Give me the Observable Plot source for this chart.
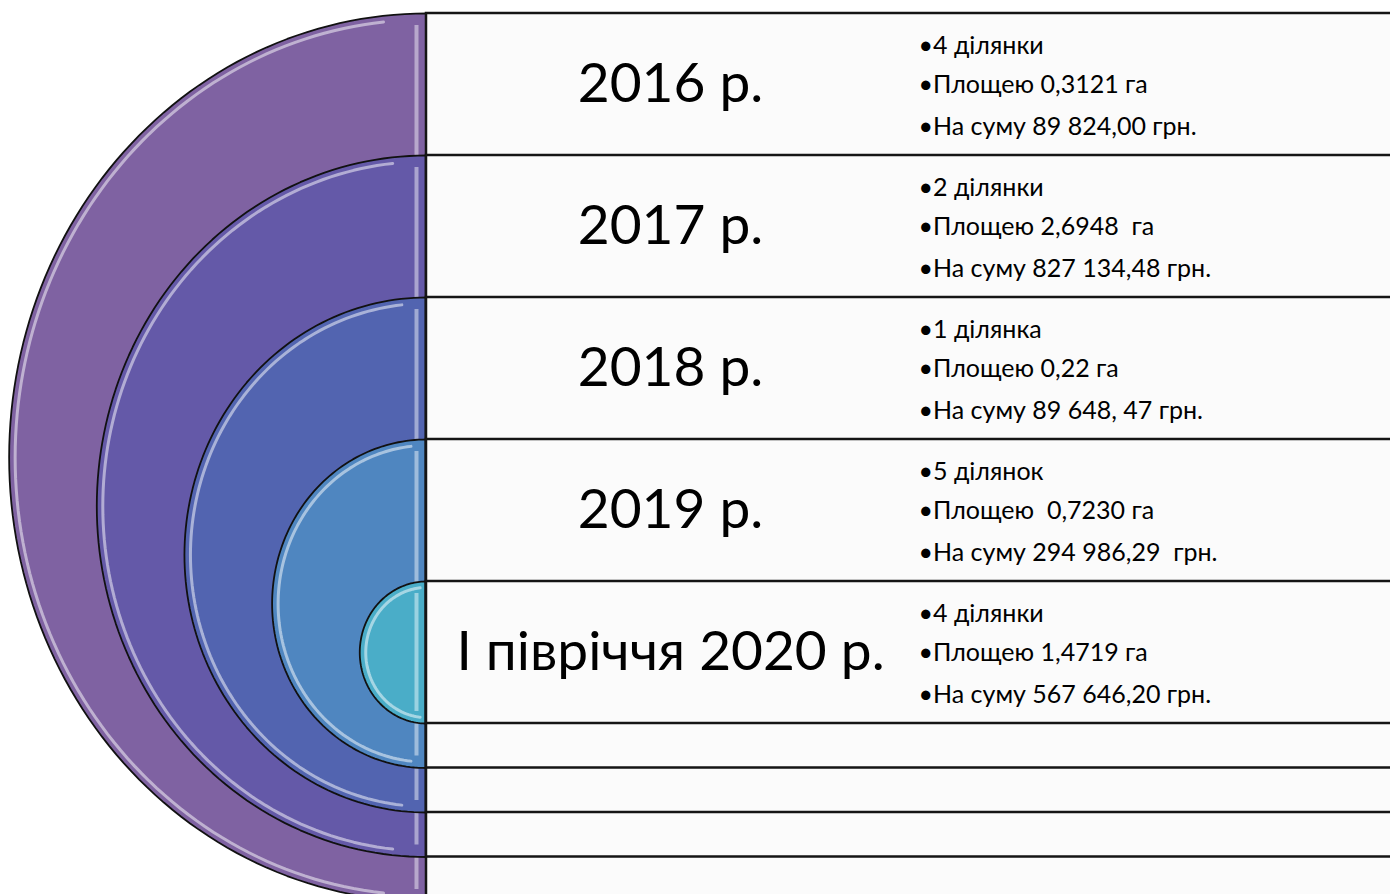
<!DOCTYPE html>
<html>
<head>
<meta charset="utf-8">
<script src="https://cdn.jsdelivr.net/npm/d3@7"></script>
<script src="https://cdn.jsdelivr.net/npm/@observablehq/plot@0.6"></script>
<style>
  html, body { margin: 0; padding: 0; background: #ffffff; }
  #chart svg text { white-space: pre; }
</style>
</head>
<body>
<div id="chart"></div>
<script>
// ---- data ----
const periods = ["2016 р.", "2017 р.", "2018 р.", "2019 р.", "I півріччя 2020 р."];
const parcels = ["4 ділянки", "2 ділянки", "1 ділянка", "5 ділянок", "4 ділянки"];
const areas = ["Площею 0,3121 га", "Площею 2,6948  га", "Площею 0,22 га", "Площею  0,7230 га", "Площею 1,4719 га"];
const sums = ["На суму 89 824,00 грн.", "На суму 827 134,48 грн.", "На суму 89 648, 47 грн.", "На суму 294 986,29  грн.", "На суму 567 646,20 грн."];
const palette = ["#7f62a2", "#6459a8", "#5264b0", "#4f86c0", "#4aadc8"];

// ---- layout (derived from index) ----
const W = 1390, H = 894;
const EDGE = 426;           // flat side of the half-discs
const ROW = 142;            // row height of the labelled bands
const TOP0 = 13;
const STEP_BOTTOM = 44.5;
const n = periods.length;
const rowTop = i => TOP0 + i * ROW;
const rowBottom = i => TOP0 + n * ROW + (n - 1 - i) * STEP_BOTTOM;

const rows = periods.map((p, i) => ({i, period: p, y1: rowTop(i), y2: rowBottom(i)}));

function halfEllipse(i, inset, a0 = -90, a1 = 90, steps = 120) {
  const y1 = rowTop(i), y2 = rowBottom(i);
  const cy = (y1 + y2) / 2, ry = (y2 - y1) / 2 - inset, rx = (y2 - y1) / 2 * 0.94 - inset;
  const pts = [];
  for (let k = 0; k <= steps; k++) {
    const t = (a0 + (a1 - a0) * k / steps) * Math.PI / 180;
    pts.push({i, x: EDGE - rx * Math.cos(t), y: cy + ry * Math.sin(t)});
  }
  return pts;
}

const bulletLines = rows.flatMap(r => [
  {i: r.i, k: 0, text: "•" + parcels[r.i]},
  {i: r.i, k: 1, text: "•" + areas[r.i]},
  {i: r.i, k: 2, text: "•" + sums[r.i]}
]);
const lineOffsets = [32, 71, 113];

const marks = [];
// nested half-discs, outer first
rows.forEach(r => {
  const shape = halfEllipse(r.i, 0);
  marks.push(Plot.line(shape, {x: "x", y: "y", fill: palette[r.i], stroke: "#111", strokeWidth: 1.8, curve: "linear"}));
  marks.push(Plot.line(halfEllipse(r.i, 6, -84, 84), {x: "x", y: "y", stroke: "#ffffff", strokeOpacity: 0.5, strokeWidth: 3}));
  marks.push(Plot.ruleX([r], {x: () => EDGE - 10, y1: d => d.y1 + 12, y2: d => d.y2 - 12, stroke: "#ffffff", strokeOpacity: 0.45, strokeWidth: 4}));
});
// nested bands on the right, outer first
marks.push(Plot.rect(rows, {x1: () => EDGE, x2: () => W + 5, y1: "y1", y2: "y2", fill: "#fbfbfb", stroke: "#151515", strokeWidth: 2.5}));
// period labels
marks.push(Plot.text(rows, {x: () => 670, y: d => d.y1 + 71, text: "period", fontSize: 55, fill: "#000", fontFamily: "Lato, 'Open Sans', sans-serif", textAnchor: "middle"}));
// bullet lines
marks.push(Plot.text(bulletLines, {x: () => 918, y: d => rowTop(d.i) + lineOffsets[d.k], text: "text", fontSize: 25, fill: "#000", fontFamily: "Lato, 'Open Sans', sans-serif", textAnchor: "start"}));

const chart = Plot.plot({
  width: W,
  height: H,
  margin: 0,
  x: {domain: [0, W], range: [0, W], axis: null},
  y: {domain: [0, H], range: [0, H], axis: null},
  style: {background: "#ffffff", overflow: "hidden"},
  marks
});
document.getElementById("chart").appendChild(chart);
</script>
</body>
</html>
